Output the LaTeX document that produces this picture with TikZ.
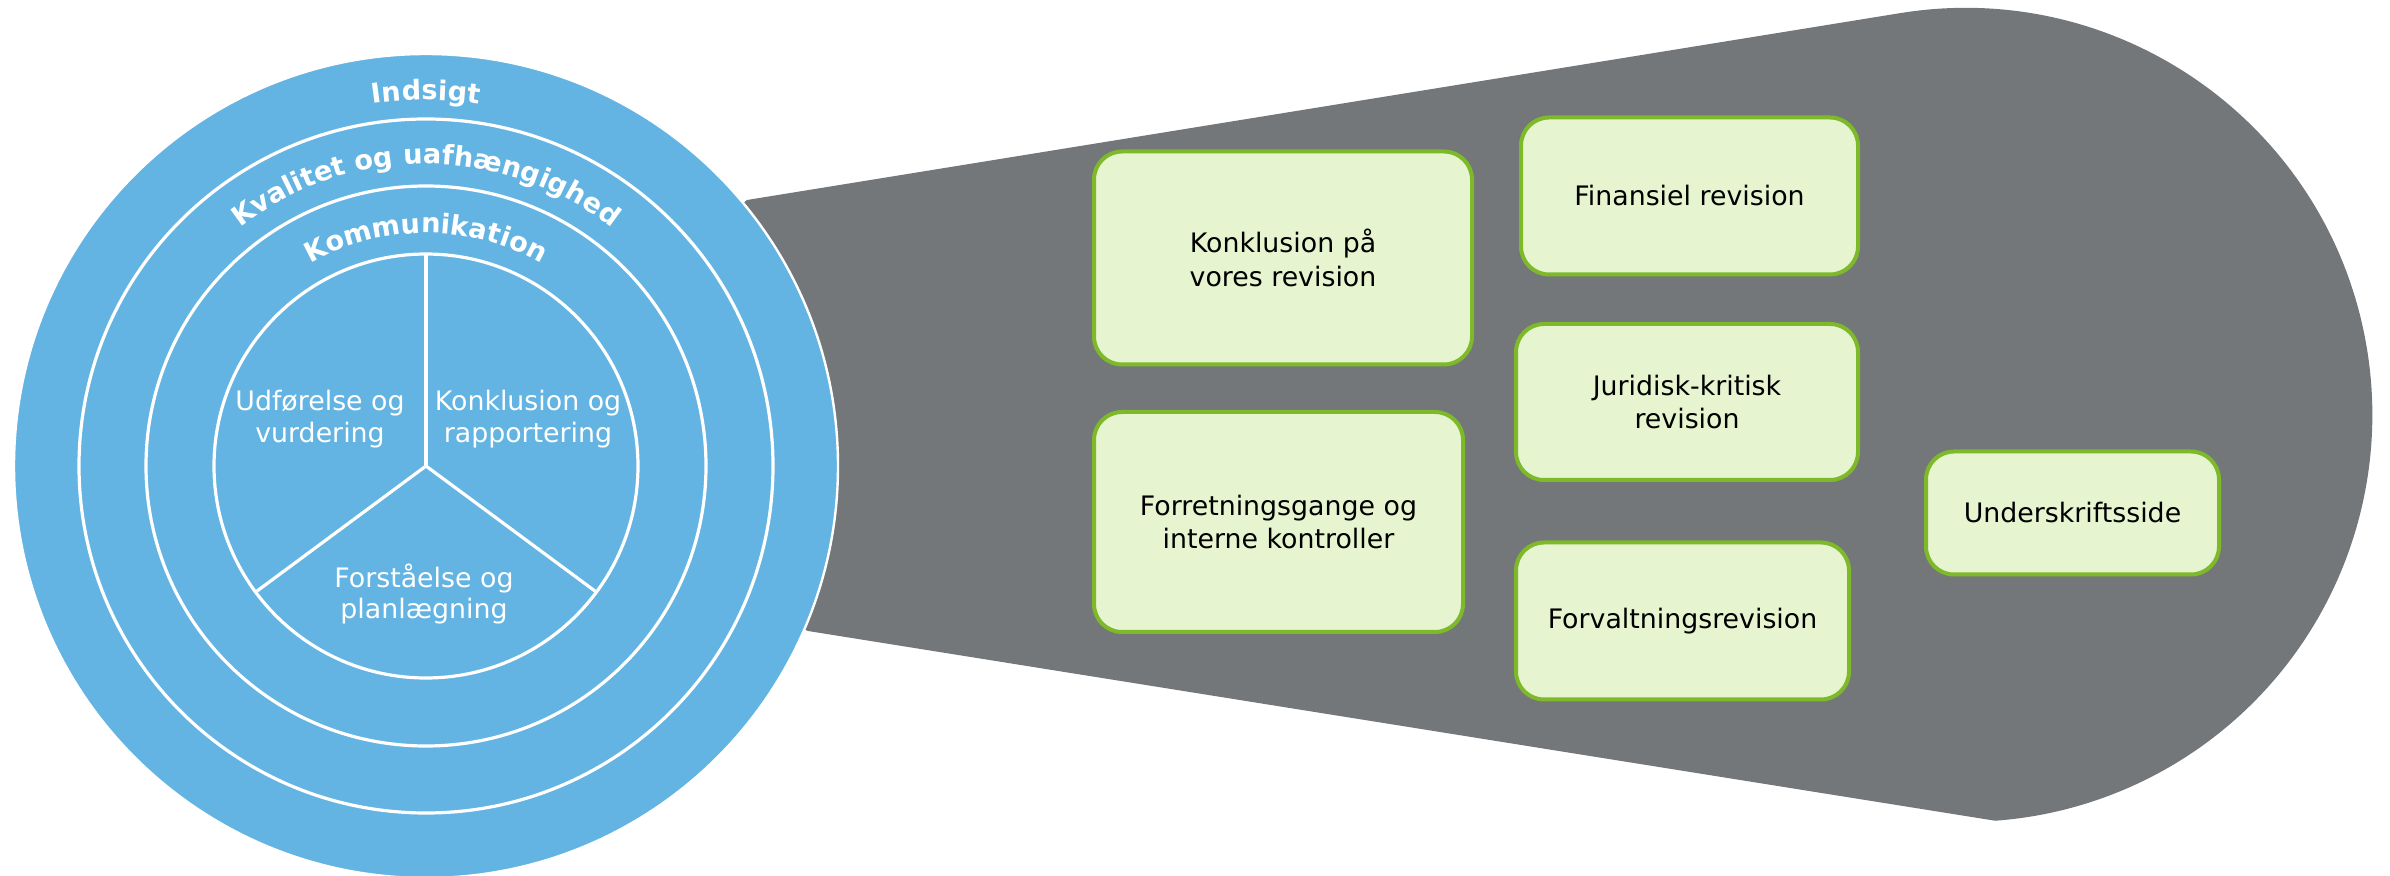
\documentclass[tikz,border=0pt]{standalone}
\usepackage{fontspec}
\setmainfont{DejaVu Sans}
\usetikzlibrary{positioning,calc,decorations.text}

\definecolor{ringblue}{RGB}{99,180,227}
\definecolor{funnelgrey}{RGB}{116,119,122}
\definecolor{boxfill}{RGB}{230,245,208}
\definecolor{boxline}{RGB}{125,185,40}

\tikzset{
    revbox/.style={draw=boxline, fill=boxfill, line width=2pt, rounded corners=14pt,
        align=center, text=black, inner sep=0pt, font=\fontsize{13.4}{16.8}\selectfont},
    pielabel/.style={text=white, align=center, font=\fontsize{13.4}{15.7}\selectfont},
    ringline/.style={white, line width=1.6pt},
    ringtext/.style={decorate, decoration={text along path, text align=center,
        text={|\color{white}\bfseries\fontsize{13.6}{14}\selectfont|#1}}}
}

\begin{document}
\begin{tikzpicture}[x=0.5pt, y=0.5pt]
    \useasboundingbox (0,0) rectangle (2390,-876);

    % Grey funnel
    \fill[funnelgrey] (747,-200) -- (1901,-13)
        arc[start angle=99.1, end angle=-85.8, radius=407]
        -- (808,-631) -- (426,-466) -- cycle;

    % Rings
    \coordinate (c) at (426,-466);
    \fill[ringblue] (c) circle[radius=412];
    \draw[white, line width=1.2pt] (c) circle[radius=412];
    \foreach \r in {347, 280, 212} {
        \draw[ringline] (c) circle[radius=\r];
    }

    % Pie sectors
    \foreach \a in {90, 216.5, -36.5} {
        \draw[ringline] (c) -- ++(\a:212);
    }
    \node[pielabel] (udf) at (320,-419) {Udførelse og\\vurdering};
    \node[pielabel] (konrap) at (528,-419) {Konklusion og\\rapportering};
    \node[pielabel] (forst) at (424,-594) {Forståelse og\\planlægning};

    % Curved ring labels
    \path[ringtext={Indsigt}] ([shift={(180:366)}]c) arc[start angle=180, end angle=0, radius=366];
    \path[ringtext={Kvalitet og uafhængighed}] ([shift={(180:302)}]c) arc[start angle=180, end angle=0, radius=302];
    \path[ringtext={Kommunikation}] ([shift={(180:233)}]c) arc[start angle=180, end angle=0, radius=233];

    % Boxes
    \node[revbox, minimum width=189pt, minimum height=106.5pt] (konkl) at (1283,-258) {Konklusion på\\vores revision};
    \node[revbox, minimum width=184.5pt, minimum height=110pt] (forret) at (1278.5,-522) {Forretningsgange og\\interne kontroller};
    \node[revbox, minimum width=168.5pt, minimum height=78.5pt] (finans) at (1689.5,-196) {Finansiel revision};
    \node[revbox, minimum width=171pt, minimum height=78pt] (jurid) at (1687,-402) {Juridisk-kritisk\\revision};
    \node[revbox, minimum width=166.5pt, minimum height=78.5pt] (forvalt) at (1682.5,-621) {Forvaltningsrevision};
    \node[revbox, minimum width=146.5pt, minimum height=61.5pt] (under) at (2072.5,-513) {Underskriftsside};
\end{tikzpicture}
\end{document}
